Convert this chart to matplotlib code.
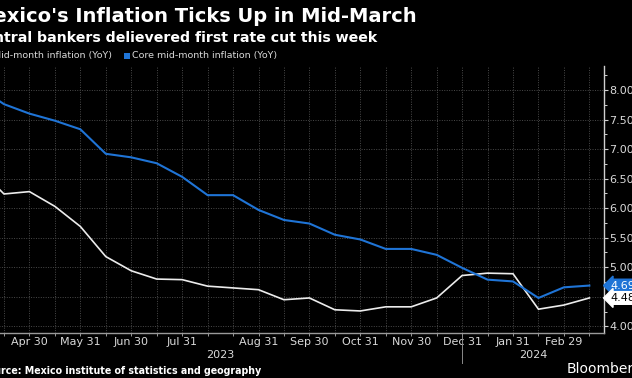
import matplotlib
matplotlib.use("Agg")
import matplotlib.pyplot as plt
from matplotlib.patches import Rectangle

W, H = 632, 378
DPI = 100

# ---- data (biweekly readings, categorical x) ----
periods = ["Mar 31", "Apr 15", "Apr 30", "May 15", "May 31", "Jun 15", "Jun 30",
           "Jul 15", "Jul 31", "Aug 7", "Aug 15", "Aug 31", "Sep 15", "Sep 30",
           "Oct 15", "Oct 31", "Nov 15", "Nov 30", "Dec 15", "Dec 31", "Jan 15",
           "Jan 31", "Feb 15", "Feb 29", "Mar 15"]
headline = [6.67, 6.24, 6.28, 6.03, 5.69, 5.18, 4.94, 4.80, 4.79, 4.68, 4.65,
            4.62, 4.45, 4.48, 4.28, 4.26, 4.33, 4.33, 4.48, 4.86, 4.90, 4.89,
            4.29, 4.36, 4.48]
core = [8.05, 7.76, 7.60, 7.48, 7.335, 6.92, 6.86, 6.76, 6.53, 6.22, 6.22,
        5.97, 5.80, 5.74, 5.55, 5.47, 5.31, 5.31, 5.21, 4.99, 4.79, 4.76,
        4.48, 4.66, 4.69]
labeled_ticks = ["Apr 30", "May 31", "Jun 30", "Jul 31", "Aug 31", "Sep 30",
                 "Oct 31", "Nov 30", "Dec 31", "Jan 31", "Feb 29"]
year_labels = ["2023", "2024"]
year_break = "Dec 31"
y_ticks = [4.0, 4.5, 5.0, 5.5, 6.0, 6.5, 7.0, 7.5, 8.0]

title = "Mexico's Inflation Ticks Up in Mid-March"
subtitle = "Central bankers delievered first rate cut this week"
legend_labels = ["Mid-month inflation (YoY)", "Core mid-month inflation (YoY)"]
source = "Source: Mexico institute of statistics and geography"

BLUE = "#1f74d6"
WHITE = "#ececec"
GRID = "#4a4a4a"
TXT = "#d9d9d9"

def fx(px):
    return px / W

def fy(py):
    return 1 - py / H

plt.rcParams["font.family"] = ["DejaVu Sans"]
fig = plt.figure(figsize=(W / DPI, H / DPI), dpi=DPI, facecolor="black")

left_px, right_px, top_px, bot_px = -21.45, 604, 66, 333
ax = fig.add_axes([fx(left_px), fy(bot_px), fx(right_px - left_px), (bot_px - top_px) / H])
ax.set_facecolor("black")

x = list(range(len(periods)))
ax.plot(x, headline, color=WHITE, lw=1.2, zorder=3, solid_joinstyle="miter")
ax.plot(x, core, color=BLUE, lw=1.5, zorder=4, solid_joinstyle="miter")

ax.set_xlim(0, (right_px - left_px) / 25.45)
ax.set_ylim(3.887, 8.406)

# grid
for i in x:
    ax.axvline(i, color=GRID, lw=0.7, ls=(0, (1, 1.5)), zorder=1)
for v in y_ticks:
    ax.axhline(v, color=GRID, lw=0.7, ls=(0, (1, 1.5)), zorder=1)

# spines
for s in ["top", "left"]:
    ax.spines[s].set_visible(False)
ax.spines["bottom"].set_color("#9a9a9a")
ax.spines["right"].set_color("#cfcfcf")
ax.spines["bottom"].set_linewidth(1.0)
ax.spines["right"].set_linewidth(1.0)

# x ticks
ax.set_xticks(x, minor=True)
ax.set_xticks([periods.index(p) for p in labeled_ticks])
ax.set_xticklabels(labeled_ticks)
ax.tick_params(axis="x", which="both", direction="out", length=2.2, width=0.7,
               color="#9a9a9a", labelcolor=TXT, labelsize=8, pad=1.0)

# y ticks
ax.yaxis.tick_right()
ax.set_yticks(y_ticks)
ax.set_yticklabels([f"{v:.2f}" for v in y_ticks])
ax.set_yticks([v + 0.25 for v in y_ticks[:-1]] + [8.25], minor=True)
ax.tick_params(axis="y", which="major", direction="out", length=3, width=0.8,
               color="#cfcfcf", labelcolor=TXT, labelsize=8, pad=1.0)
ax.tick_params(axis="y", which="minor", direction="out", length=1.8, width=0.7,
               color="#cfcfcf")

# year labels and separator
xmax = ax.get_xlim()[1]
brk = periods.index(year_break)
ax.text(brk / 2, -0.082, year_labels[0], transform=ax.get_xaxis_transform(),
        ha="center", va="center", color=TXT, fontsize=8)
ax.text((brk + xmax) / 2, -0.082, year_labels[1], transform=ax.get_xaxis_transform(),
        ha="center", va="center", color=TXT, fontsize=8)
ax.plot([brk, brk], [0, -0.112], transform=ax.get_xaxis_transform(), color="#8a8a8a",
        lw=0.7, clip_on=False)

# last value labels
ax.annotate(f"{core[-1]:.2f}", xy=(1, core[-1]), xycoords=("axes fraction", "data"),
            xytext=(4.5, 0), textcoords="offset points", ha="left", va="center",
            color="white", fontsize=8, zorder=6,
            bbox=dict(boxstyle="larrow,pad=0.12", fc=BLUE, ec=BLUE))
ax.annotate(f"{headline[-1]:.2f}", xy=(1, headline[-1]), xycoords=("axes fraction", "data"),
            xytext=(4.5, 0), textcoords="offset points", ha="left", va="center",
            color="black", fontsize=8, zorder=6,
            bbox=dict(boxstyle="larrow,pad=0.12", fc="white", ec="white"))

# titles
fig.text(fx(417), fy(17), title, ha="right", va="center", color="white",
         fontsize=14.0, fontweight="bold")
fig.text(fx(377), fy(37.5), subtitle, ha="right", va="center", color="white",
         fontsize=10.2, fontweight="bold")

# legend
fig.text(fx(111.7), fy(55.7), legend_labels[0], ha="right", va="center",
         color=TXT, fontsize=6.8)
fig.text(fx(132), fy(55.7), legend_labels[1], ha="left", va="center",
         color=TXT, fontsize=6.8)
fig.patches.append(Rectangle((fx(-14), fy(58.5)), fx(5.5), 5.5 / H, transform=fig.transFigure,
                             facecolor=WHITE, edgecolor="none"))
fig.patches.append(Rectangle((fx(124), fy(58.5)), fx(5.5), 5.5 / H, transform=fig.transFigure,
                             facecolor=BLUE, edgecolor="none"))

# source
fig.text(fx(261), fy(371), source, ha="right", va="center", color="white",
         fontsize=6.85, fontweight="bold")
fig.text(fx(567), fy(369.5), "Bloomberg", ha="left", va="center", color="white",
         fontsize=10)

fig.savefig("out.png", dpi=DPI, facecolor="black")
